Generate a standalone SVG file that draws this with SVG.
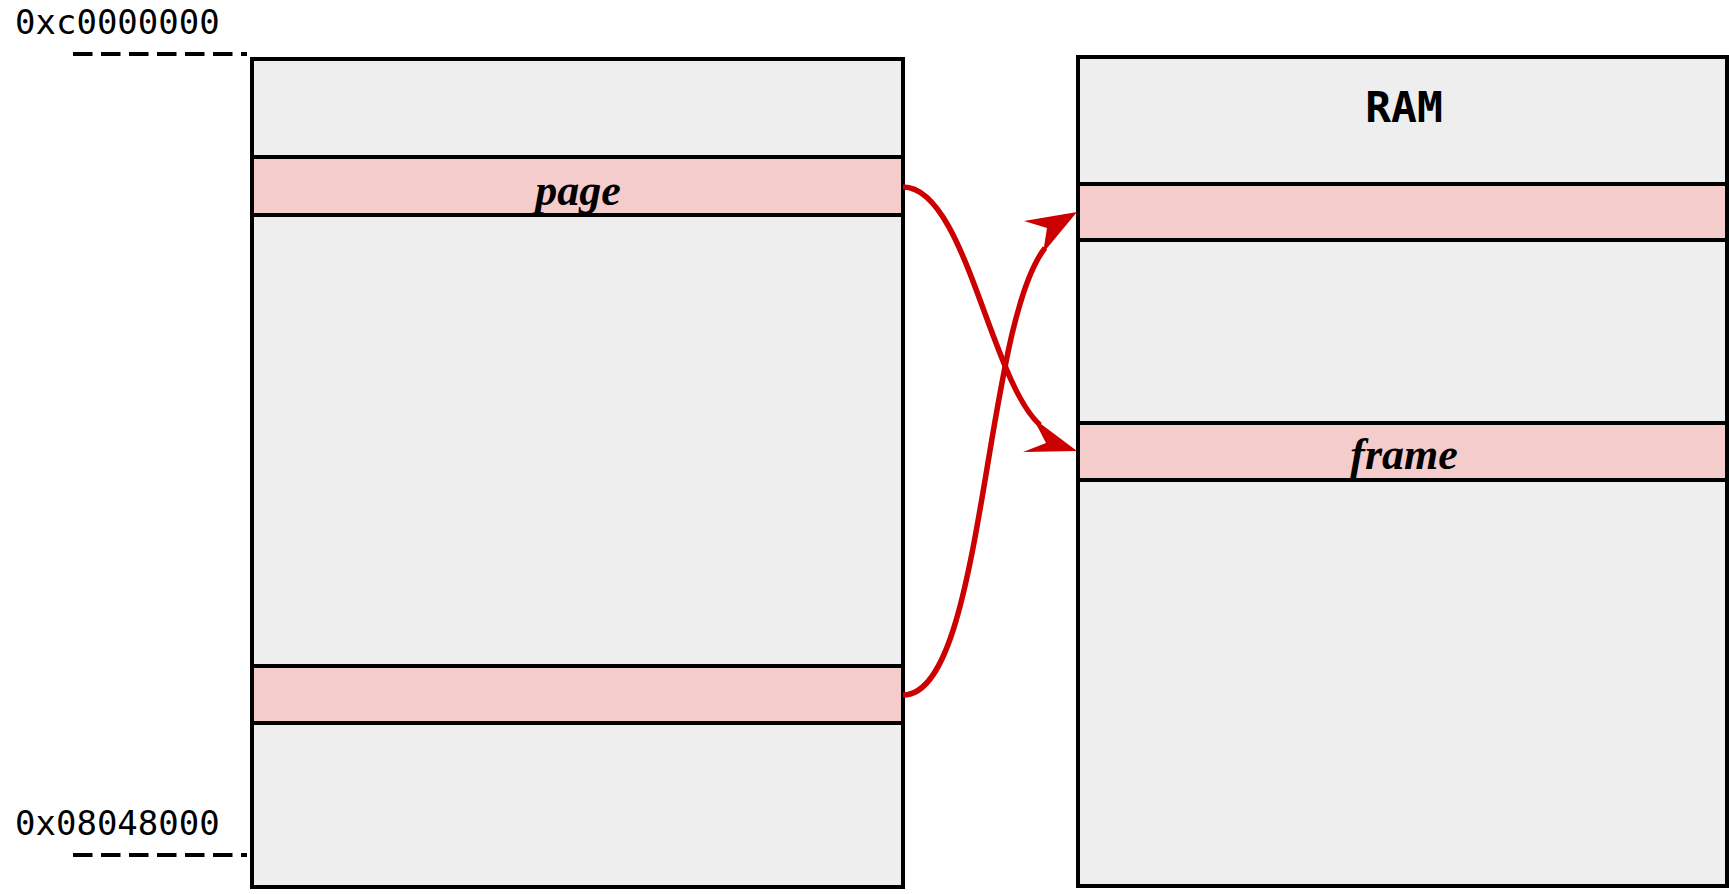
<svg xmlns="http://www.w3.org/2000/svg" width="1729" height="894" viewBox="0 0 1729 894">
  <style>
    .box { fill: #eeeeee; stroke: #000000; stroke-width: 4; }
    .band { fill: #f4cccc; stroke: #000000; stroke-width: 4; }
    .addr { font-family: "DejaVu Sans Mono", "Liberation Mono", monospace; font-size: 34px; fill: #000000; }
    .mark { stroke: #000000; stroke-width: 4; stroke-dasharray: 19.5 8.5; fill: none; }
    .label { font-family: "Liberation Serif", "DejaVu Serif", serif; font-style: italic; font-weight: bold; font-size: 44px; text-anchor: middle; fill: #000000; }
    .title { font-family: "DejaVu Sans Mono", "Liberation Mono", monospace; font-weight: bold; font-size: 43px; text-anchor: middle; fill: #000000; }
    .link { fill: none; stroke: #cc0000; stroke-width: 5.5; }
    .head { fill: #cc0000; stroke: none; }
  </style>

  <!-- address markers -->
  <g id="addr-top">
    <text class="addr" x="15" y="34">0xc0000000</text>
    <line class="mark" x1="73" y1="54" x2="247" y2="54"/>
  </g>
  <g id="addr-bottom">
    <text class="addr" x="15" y="835">0x08048000</text>
    <line class="mark" x1="73" y1="855" x2="247" y2="855"/>
  </g>

  <!-- virtual address space -->
  <g id="virtual-space">
    <rect class="box" x="252" y="59" width="651" height="828"/>
    <g id="page">
      <rect class="band" x="252" y="157" width="651" height="58"/>
      <text class="label" x="578" y="205">page</text>
    </g>
    <g id="page-low">
      <rect class="band" x="252" y="666" width="651" height="57"/>
    </g>
  </g>

  <!-- physical memory -->
  <g id="ram">
    <rect class="box" x="1078" y="57" width="649" height="829"/>
    <text class="title" x="1404" y="122">RAM</text>
    <g id="frame-top">
      <rect class="band" x="1078" y="184" width="649" height="56"/>
    </g>
    <g id="frame">
      <rect class="band" x="1078" y="423" width="649" height="57"/>
      <text class="label" x="1404" y="469">frame</text>
    </g>
  </g>

  <!-- mappings -->
  <g id="connectors">
    <path class="link" d="M903,187 C965,187 990,380 1040,425"/>
    <polygon class="head" points="1077,451 1033,418 1046,443 1023,452"/>
    <path class="link" d="M903,695 C985,695 983,327 1045,248"/>
    <polygon class="head" points="1077,212 1024,221 1047,228 1043,253"/>
  </g>
</svg>
